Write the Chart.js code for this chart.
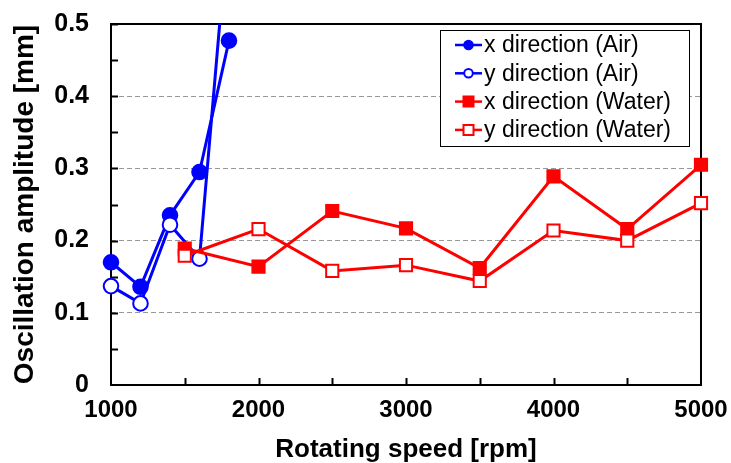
<!DOCTYPE html>
<html>
<head>
<meta charset="utf-8">
<script src="https://cdn.jsdelivr.net/npm/chart.js@4.4.1/dist/chart.umd.min.js"></script>
<style>
  html, body { margin: 0; padding: 0; background: #fff; }
</style>
</head>
<body>
<canvas id="myChart" width="731" height="463"></canvas>
<script>
// data
const airSpeeds = [1000, 1200, 1400, 1600, 1800];
const airX = [0.170, 0.136, 0.235, 0.295, 0.477];
const airY = [0.137, 0.113, 0.222, 0.175, 0.65];
const waterSpeeds = [1500, 2000, 2500, 3000, 3500, 4000, 4500, 5000];
const waterX = [0.189, 0.164, 0.241, 0.217, 0.162, 0.289, 0.216, 0.305];
const waterY = [0.179, 0.216, 0.158, 0.166, 0.144, 0.214, 0.200, 0.252];
const seriesNames = ['x direction (Air)', 'y direction (Air)', 'x direction (Water)', 'y direction (Water)'];
const xTicks = [1000, 2000, 3000, 4000, 5000];
const yTicks = [0, 0.1, 0.2, 0.3, 0.4, 0.5];

const BLUE = '#0000ff', RED = '#ff0000';
const FONT = '"Liberation Sans", Arial, sans-serif';

function pts(xs, ys) {
  return xs.map((x, i) => ({ x: x, y: ys[i] }));
}

function series(label, data, color, shape, filled, order) {
  const isCircle = shape === 'circle';
  return {
    label: label,
    data: data,
    borderColor: color,
    borderWidth: 3,
    backgroundColor: color,
    pointStyle: shape,
    pointRadius: isCircle ? 7.3 : 8.6,
    pointBorderWidth: 2,
    pointBorderColor: color,
    pointBackgroundColor: filled ? color : '#ffffff',
    tension: 0,
    order: order,
    clip: { left: 20, right: 20, top: 0, bottom: 20 },
    _filled: filled
  };
}

// frame + inward ticks, drawn under the data
const framePlugin = {
  id: 'frame',
  beforeDatasetsDraw(chart) {
    const ctx = chart.ctx, a = chart.chartArea;
    const xs = chart.scales.x, ys = chart.scales.y;
    ctx.save();
    ctx.strokeStyle = '#000';
    ctx.lineWidth = 2;
    ctx.strokeRect(a.left, a.top, a.right - a.left, a.bottom - a.top);
    ctx.beginPath();
    for (let v = 0.05; v < 0.5; v += 0.05) {
      const y = Math.round(ys.getPixelForValue(v)) + 0.5;
      ctx.moveTo(a.left, y); ctx.lineTo(a.left + 7, y);
    }
    for (let v = 1500; v < 5000; v += 500) {
      const x = Math.round(xs.getPixelForValue(v)) + 0.5;
      ctx.moveTo(x, a.bottom); ctx.lineTo(x, a.bottom - 7);
    }
    ctx.stroke();
    ctx.restore();
  }
};

// boxed legend inside the plot, top right
const legendPlugin = {
  id: 'boxLegend',
  afterDraw(chart) {
    const ctx = chart.ctx;
    const bx = 440.5, by = 30.5, bw = 249, bh = 116;
    ctx.save();
    ctx.fillStyle = '#fff';
    ctx.fillRect(bx, by, bw, bh);
    ctx.strokeStyle = '#000';
    ctx.lineWidth = 1;
    ctx.strokeRect(bx, by, bw, bh);
    chart.data.datasets.forEach((ds, i) => {
      const cy = 45 + i * 28.3;
      ctx.strokeStyle = ds.borderColor;
      ctx.lineWidth = 2.5;
      ctx.beginPath();
      ctx.moveTo(455, cy); ctx.lineTo(482, cy);
      ctx.stroke();
      ctx.fillStyle = ds._filled ? ds.borderColor : '#fff';
      ctx.lineWidth = 2;
      ctx.beginPath();
      if (ds.pointStyle === 'circle') {
        ctx.arc(468.5, cy, 4.3, 0, Math.PI * 2);
      } else {
        ctx.rect(463.5, cy - 5, 10, 10);
      }
      ctx.fill();
      ctx.stroke();
      ctx.fillStyle = '#000';
      ctx.font = '23px ' + FONT;
      ctx.textBaseline = 'middle';
      ctx.fillText(seriesNames[i], 484, cy + 1);
    });
    ctx.restore();
  }
};

const data = {
  datasets: [
    series(seriesNames[0], pts(airSpeeds, airX), BLUE, 'circle', true, 4),
    series(seriesNames[1], pts(airSpeeds, airY), BLUE, 'circle', false, 3),
    series(seriesNames[2], pts(waterSpeeds, waterX), RED, 'rect', true, 2),
    series(seriesNames[3], pts(waterSpeeds, waterY), RED, 'rect', false, 1)
  ]
};

const myChart = new Chart(document.getElementById('myChart').getContext('2d'), {
  type: 'line',
  data: data,
  plugins: [framePlugin, legendPlugin],
  options: {
    responsive: false,
    animation: false,
    layout: { padding: { left: 0, right: 30, top: 24, bottom: 0 } },
    plugins: { legend: { display: false }, tooltip: { enabled: false } },
    scales: {
      x: {
        type: 'linear',
        min: 1000,
        max: 5000,
        afterBuildTicks: s => { s.ticks = xTicks.map(v => ({ value: v })); },
        afterFit: s => { s.height = 78; s.paddingLeft = 0; s.paddingRight = 0; },
        ticks: {
          callback: v => String(v),
          color: '#000',
          font: { family: FONT, size: 24, weight: 'bold' },
          padding: 11,
          maxRotation: 0
        },
        grid: { display: false, drawTicks: false },
        border: { display: false },
        title: {
          display: true,
          text: 'Rotating speed [rpm]',
          color: '#000',
          font: { family: FONT, size: 26, weight: 'bold' },
          padding: { top: 0, bottom: -2 }
        }
      },
      y: {
        min: 0,
        max: 0.5,
        afterBuildTicks: s => { s.ticks = yTicks.map(v => ({ value: v })); },
        afterFit: s => { s.width = 111; s.paddingTop = 0; s.paddingBottom = 0; },
        ticks: {
          callback: v => v === 0 ? '0' : v.toFixed(1),
          color: '#000',
          font: { family: FONT, size: 25, weight: 'bold' },
          padding: 22
        },
        grid: { color: '#999', lineWidth: 1, drawTicks: false },
        border: { display: false, dash: [5, 3] },
        title: {
          display: true,
          text: 'Oscillation amplitude [mm]',
          color: '#000',
          font: { family: FONT, size: 28, weight: 'bold' },
          padding: { top: 8, bottom: 0 }
        }
      }
    }
  }
});
</script>
</body>
</html>
